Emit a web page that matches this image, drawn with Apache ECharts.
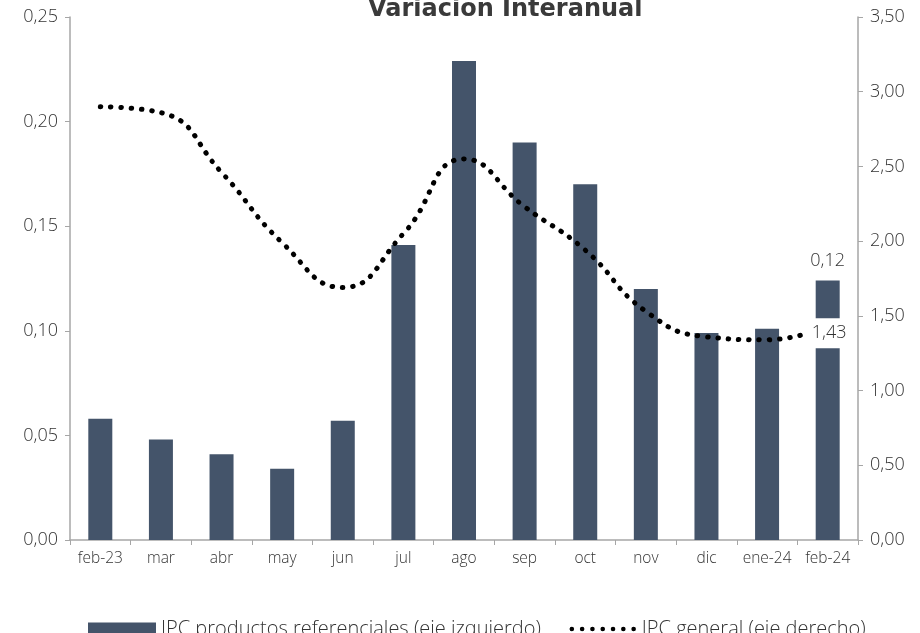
<!DOCTYPE html>
<html>
<head>
<meta charset="utf-8">
<script src="https://cdn.jsdelivr.net/npm/echarts@6/dist/echarts.min.js"></script>
<style>
html,body{margin:0;padding:0;background:#fff;}
#chart{width:920px;height:633px;}
</style>
</head>
<body>
<div id="chart"></div>
<script>
// meses
var categories = ['feb-23','mar','abr','may','jun','jul','ago','sep','oct','nov','dic','ene-24','feb-24'];
// IPC productos referenciales (eje izquierdo)
var ipcReferenciales = [0.058,0.048,0.041,0.034,0.057,0.141,0.229,0.190,0.170,0.120,0.099,0.101,0.124];
// IPC general (eje derecho)
var ipcGeneral = [2.90,2.86,2.46,1.99,1.69,2.05,2.55,2.23,1.94,1.53,1.36,1.34,1.43];
var leftTicks = [0,0.05,0.10,0.15,0.20,0.25];
var rightTicks = [0,0.5,1,1.5,2,2.5,3,3.5];

var fmt = function(v){ return v.toFixed(2).replace('.', ','); };
var font = '"Open Sans", "Noto Sans", sans-serif';
var titleFont = '"DejaVu Sans", sans-serif';
var last = categories.length - 1;

// icono punteado para la leyenda de la linea
function dotsIcon(){
    var p = 'path://M0,0L0,0M68,13L68,13';
    for (var k = 0; k < 7; k++) {
        var cx = 3 + k * 10.3, r = 2.3;
        p += 'M' + (cx - r) + ',6.5a' + r + ',' + r + ' 0 1,0 ' + (2 * r) + ',0a' + r + ',' + r + ' 0 1,0 ' + (-2 * r) + ',0Z';
    }
    return p;
}

var chart = echarts.init(document.getElementById('chart'));
var option = {
    animation: false,
    title: {
        text: 'Variación Interanual',
        left: 363,
        top: -7,
        textStyle: { fontFamily: titleFont, fontSize: 24, fontWeight: 'bold', color: '#3a3a3a' }
    },
    grid: { left: 70, right: 62, top: 17, bottom: 93 },
    legend: {
        bottom: -11,
        left: 83,
        itemWidth: 68,
        itemHeight: 13,
        itemGap: 28,
        textStyle: { fontFamily: font, fontWeight: 300, fontSize: 20, color: '#333' },
        data: [
            { name: 'IPC productos referenciales (eje izquierdo)', icon: 'rect' },
            { name: 'IPC general (eje derecho)', icon: dotsIcon(), itemStyle: { color: '#000' } }
        ]
    },
    xAxis: {
        type: 'category',
        data: categories,
        axisLine: { lineStyle: { color: '#a6a6a6', width: 1.5 } },
        axisTick: { show: true, length: 5, lineStyle: { color: '#a6a6a6' } },
        axisLabel: { interval: 0, fontFamily: font, fontWeight: 300, fontSize: 15.5, color: '#333', margin: 11 }
    },
    yAxis: [
        {
            type: 'value',
            min: 0, max: leftTicks[leftTicks.length - 1], interval: 0.05,
            axisLine: { show: true, lineStyle: { color: '#a6a6a6', width: 1.5 } },
            axisTick: { show: true, length: 5, lineStyle: { color: '#a6a6a6' } },
            splitLine: { show: false },
            axisLabel: { fontFamily: font, fontWeight: 300, fontSize: 18, color: '#333', margin: 12, formatter: fmt }
        },
        {
            type: 'value',
            min: 0, max: rightTicks[rightTicks.length - 1], interval: 0.5,
            position: 'right',
            axisLine: { show: true, lineStyle: { color: '#a6a6a6', width: 1.5 } },
            axisTick: { show: true, length: 5, lineStyle: { color: '#a6a6a6' } },
            splitLine: { show: false },
            axisLabel: { fontFamily: font, fontWeight: 300, fontSize: 18, color: '#333', margin: 12, formatter: fmt }
        }
    ],
    series: [
        {
            name: 'IPC productos referenciales (eje izquierdo)',
            type: 'bar',
            yAxisIndex: 0,
            barWidth: 24,
            itemStyle: { color: '#44546a' },
            data: ipcReferenciales.map(function(v, i){
                if (i !== last) return v;
                return {
                    value: v,
                    label: {
                        show: true, position: 'top', distance: 11,
                        fontFamily: font, fontWeight: 300, fontSize: 18, color: '#333',
                        formatter: function(p){ return fmt(p.value); }
                    }
                };
            })
        },
        {
            name: 'IPC general (eje derecho)',
            type: 'line',
            yAxisIndex: 1,
            smooth: 0.5,
            symbol: 'none',
            lineStyle: { color: '#000', width: 5, type: [0.5, 9.8], cap: 'round' },
            itemStyle: { color: '#000' },
            data: ipcGeneral,
            markPoint: {
                symbol: 'circle',
                symbolSize: 0,
                silent: true,
                z: 10,
                label: {
                    show: true, position: 'inside', offset: [0, 7],
                    backgroundColor: '#fff', padding: [6, 3, 6, 6],
                    fontFamily: font, fontWeight: 300, fontSize: 18, color: '#333',
                    formatter: function(p){ return fmt(p.value); }
                },
                data: [{ coord: [categories[last], ipcGeneral[last]], value: ipcGeneral[last] }]
            }
        }
    ]
};
chart.setOption(option);
</script>
</body>
</html>
